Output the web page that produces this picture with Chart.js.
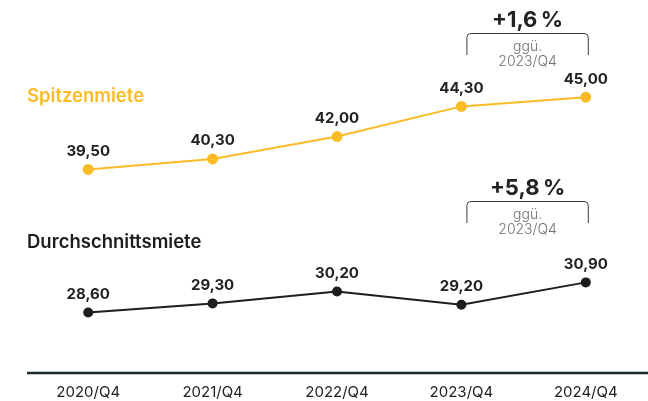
<!DOCTYPE html>
<html><head><meta charset="utf-8">
<script src="https://cdn.jsdelivr.net/npm/chart.js@4"></script>
<style>html,body{margin:0;padding:0;background:#fff}#w{width:648px;height:401px}</style>
</head><body><div id="w"><canvas id="c" width="648" height="401"></canvas></div>
<script>
const categories = ['2020/Q4','2021/Q4','2022/Q4','2023/Q4','2024/Q4'];
const spitzenmiete = [39.50, 40.30, 42.00, 44.30, 45.00];
const durchschnittsmiete = [28.60, 29.30, 30.20, 29.20, 30.90];
const seriesNames = ['Spitzenmiete','Durchschnittsmiete'];
const changes = ['+1,6\u202f%','+5,8\u202f%'];
const compareLabel = ['ggü.','2023/Q4'];

const YEL = '#fbbb26', BLK = '#1d1d1b';
const FONT = 'Inter, "Noto Sans", sans-serif';
const fmt = v => v.toFixed(2).replace('.', ',');

const overlay = {
  id: 'overlay',
  afterDatasetsDraw(chart) {
    const ctx = chart.ctx, x = chart.scales.x, a = chart.chartArea;
    ctx.save();
    // axis line
    ctx.strokeStyle = '#1c2a2e'; ctx.lineWidth = 2.5;
    ctx.beginPath(); ctx.moveTo(27, a.bottom); ctx.lineTo(648, a.bottom); ctx.stroke();
    // tick labels
    ctx.textAlign = 'center'; ctx.textBaseline = 'middle';
    ctx.font = '15px ' + FONT; ctx.fillStyle = '#222';
    chart.data.labels.forEach((l, i) => ctx.fillText(l, x.getPixelForValue(i), a.bottom + 19));
    // value labels
    ctx.font = 'bold 15px ' + FONT; ctx.fillStyle = '#222';
    chart.data.datasets.forEach((ds, di) => {
      chart.getDatasetMeta(di).data.forEach((pt, i) => {
        ctx.fillText(fmt(ds.data[i]), pt.x, pt.y - 18);
      });
    });
    // series titles
    ctx.textAlign = 'left';
    ctx.font = '600 18.5px ' + FONT;
    ctx.fillStyle = YEL; ctx.fillText(seriesNames[0], 27, 96);
    ctx.fillStyle = BLK; ctx.fillText(seriesNames[1], 27, 242);
    // brackets
    const bx0 = x.getPixelForValue(3) + 5, bx1 = x.getPixelForValue(4) + 3, cx = (bx0 + bx1) / 2;
    const tops = [33, 201], chY = [20, 188];
    tops.forEach((t, k) => {
      ctx.strokeStyle = '#3a3a3a'; ctx.lineWidth = 1;
      const r = 4, b = t + 22;
      ctx.beginPath();
      ctx.moveTo(bx0 + .5, b); ctx.lineTo(bx0 + .5, t + r + .5);
      ctx.arcTo(bx0 + .5, t + .5, bx0 + r, t + .5, r);
      ctx.lineTo(bx1 - r, t + .5);
      ctx.arcTo(bx1 - .5, t + .5, bx1 - .5, t + r, r);
      ctx.lineTo(bx1 - .5, b);
      ctx.stroke();
      ctx.textAlign = 'center';
      ctx.fillStyle = '#222'; ctx.font = 'bold 22px ' + FONT;
      ctx.fillText(changes[k], cx, chY[k]);
      ctx.fillStyle = '#707070'; ctx.font = '300 14px ' + FONT;
      ctx.fillText(compareLabel[0], cx, t + 13.5);
      ctx.fillText(compareLabel[1], cx, t + 29);
    });
    ctx.restore();
  }
};

new Chart(document.getElementById('c'), {
  type: 'line',
  data: {
    labels: categories,
    datasets: [
      { data: spitzenmiete, borderColor: YEL, backgroundColor: YEL, borderWidth: 2, pointRadius: 4.5, pointHoverRadius: 4.5, tension: 0 },
      { data: durchschnittsmiete, borderColor: BLK, backgroundColor: BLK, borderWidth: 2, pointRadius: 4, pointHoverRadius: 4, tension: 0 }
    ]
  },
  options: {
    responsive: false, animation: false,
    layout: { autoPadding: false, padding: { left: 26, right: 0, top: 0, bottom: 0 } },
    plugins: { legend: { display: false }, tooltip: { enabled: false } },
    scales: {
      x: {
        offset: true,
        grid: { display: false, drawTicks: false },
        border: { display: false },
        ticks: { display: false },
        afterFit: s => { s.height = 28; }
      },
      y: { display: false, min: 24, max: 52.4 }
    }
  },
  plugins: [overlay]
});
</script></body></html>
